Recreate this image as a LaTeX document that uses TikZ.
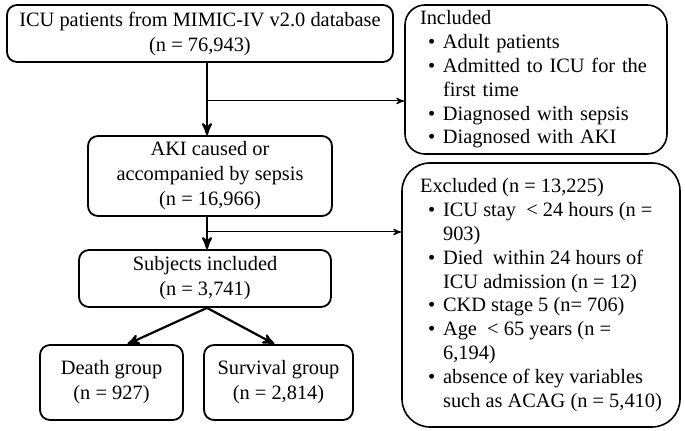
\documentclass[tikz,border=0pt]{standalone}
\usepackage{fontspec}
\setmainfont{Liberation Serif}
\usetikzlibrary{positioning}
\usetikzlibrary{arrows}
\tikzset{>=stealth'}
\tikzset{stage/.style={draw, rounded corners=5pt, line width=0.9pt, align=center, inner sep=2pt, font=\fontsize{10.2}{12.5}\selectfont}}
\tikzset{crit/.style={draw, line width=0.8pt, align=left, inner sep=2pt, font=\fontsize{10.2}{11.9}\selectfont}}
\tikzset{flow/.style={->, line width=1.1pt}}
\tikzset{side/.style={->, line width=0.5pt}}
\newcommand{\critbul}{\makebox[11.5pt][l]{\hspace{4pt}\textbullet}}
\newcommand{\critind}{\hspace*{11.5pt}}

\begin{document}
\begin{tikzpicture}[x=0.5pt, y=-0.5pt]
\useasboundingbox (0,0) rectangle (685,431);

\node[stage, minimum width=193pt, minimum height=28.5pt] (mimic) at (200,33.5) {ICU patients from MIMIC-IV v2.0 database\\(n = 76,943)};
\node[stage, minimum width=122pt, minimum height=40pt] (aki) at (210,176) {AKI caused or\\accompanied by sepsis\\(n = 16,966)};
\node[stage, minimum width=126pt, minimum height=28.5pt] (subj) at (205,278.5) {Subjects included\\(n = 3,741)};
\node[stage, minimum width=71.5pt, minimum height=37.5pt] (death) at (111.5,382.5) {Death group\\(n = 927)};
\node[stage, minimum width=74.5pt, minimum height=37.5pt] (surv) at (278.5,382.5) {Survival group\\(n = 2,814)};

\node[crit, rounded corners=10pt, text width=116pt, inner xsep=7.5pt, minimum height=74.5pt] (incl) at (536,79.5) {Included\\
\critbul Adult patients\\
\critbul Admitted to ICU for the\\
\critind first time\\
\critbul Diagnosed with sepsis\\
\critbul Diagnosed with AKI};

\node[crit, rounded corners=14pt, minimum width=139pt, minimum height=132pt] (excl) at (541,295) {Excluded (n = 13,225)\\
\critbul ICU stay \ < 24 hours (n =\\
\critind 903)\\
\critbul Died \ within 24 hours of\\
\critind ICU admission (n = 12)\\
\critbul CKD stage 5 (n= 706)\\
\critbul Age \ < 65 years (n =\\
\critind 6,194)\\
\critbul absence of key variables\\
\critind such as ACAG (n = 5,410)};

\coordinate (trunk) at (207,0);
\coordinate (fork1) at (207,101);
\coordinate (fork2) at (207,232);

\draw[flow] (mimic.south -| trunk) -- (aki.north -| trunk);
\draw[side] (fork1) -- (incl.west |- fork1);
\draw[flow] (aki.south -| trunk) -- (subj.north -| trunk);
\draw[side] (fork2) -- (excl.west |- fork2);
\draw[flow] (subj.south -| trunk) -- ([xshift=8pt]death.north);
\draw[flow] (subj.south -| trunk) -- ([xshift=-2pt]surv.north);
\end{tikzpicture}
\end{document}
